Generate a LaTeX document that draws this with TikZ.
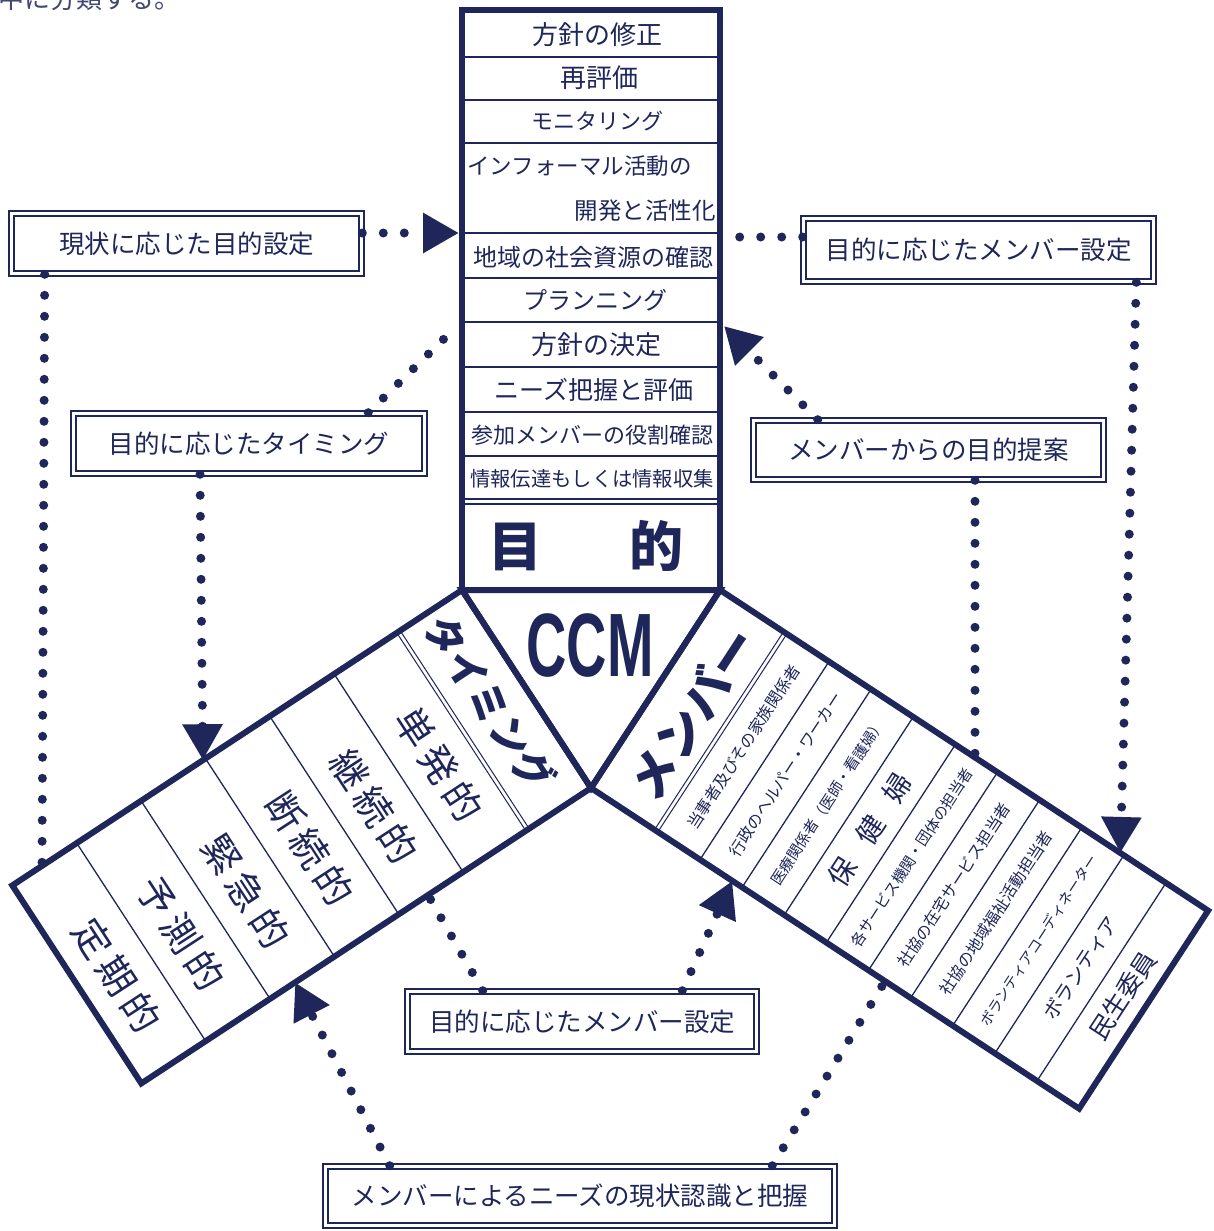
\documentclass[tikz,border=0pt]{standalone}
\usepackage{fontspec}
\usepackage{graphicx}
\usetikzlibrary{calc,arrows.meta}
\setmainfont{Liberation Sans}
\newfontfamily\jp{Noto Sans CJK JP}
\definecolor{navy}{RGB}{30,38,90}
\newcommand\fsz[1]{\fontsize{#1pt}{#1pt}\selectfont}
\begin{document}
\begin{tikzpicture}[x=1pt,y=-1pt,
  frame/.style={draw=navy,line width=6pt,line join=miter},
  rowline/.style={draw=navy,line width=1.3pt},
  dotline/.style={draw=navy,line width=9pt,line cap=round,dash pattern=on 0pt off 21pt},
  tip/.style={-{Triangle[length=36pt,width=38pt]}},
  labelbox/.style={draw=navy,double=white,double distance=3.5pt,line width=1.6pt,inner sep=0pt,text=navy,font=\jp\fsz{25.5}},
  rowtext/.style={text=navy,inner sep=0pt},
]
\useasboundingbox (0,0) rectangle (1213,1231);
\fill[white] (0,0) rectangle (1213,1231);

% cut-off sentence at the top
\node[rowtext,anchor=base west,font=\jp\fsz{26},text=navy!85] (cut) at (-2,9) {中に分類する。};

% key points of the Y shape
\coordinate (TL) at (462,590);
\coordinate (TR) at (720,590);
\coordinate (V) at (591,788);
\coordinate (L1) at (12.3,885.4);
\coordinate (L2) at (141.3,1083.4);
\coordinate (R1) at (1208.1,910.6);
\coordinate (R2) at (1079.1,1108.6);
\coordinate (ML) at ($(TL)!0.5!(V)$);
\coordinate (ML1) at ($(L1)!0.5!(L2)$);
\coordinate (MR) at ($(TR)!0.5!(V)$);
\coordinate (MR1) at ($(R1)!0.5!(R2)$);

% ---------- top box (目的) ----------
\foreach \y in {57,100,143,233,278,322,367,412,456,499,504}
  \draw[rowline] (462,\y) -- (720,\y);
\node[rowtext,font=\jp\fsz{26}] (r1) at (597,35) {方針の修正};
\node[rowtext,font=\jp\fsz{26}] (r2) at (599,78) {再評価};
\node[rowtext,font=\jp\fsz{22}] (r3) at (597,121) {モニタリング};
\node[rowtext,font=\jp\fsz{22.5},anchor=west] (r4) at (467,166) {インフォーマル活動の};
\node[rowtext,font=\jp\fsz{23.5},anchor=east] (r5) at (716,211) {開発と活性化};
\node[rowtext,font=\jp\fsz{24}] (r6) at (593,257) {地域の社会資源の確認};
\node[rowtext,font=\jp\fsz{24}] (r7) at (595,300) {プランニング};
\node[rowtext,font=\jp\fsz{26}] (r8) at (596,345) {方針の決定};
\node[rowtext,font=\jp\fsz{25}] (r9) at (594,390) {ニーズ把握と評価};
\node[rowtext,font=\jp\fsz{22}] (r10) at (592,435) {参加メンバーの役割確認};
\node[rowtext,font=\jp\fsz{20.3}] (r11) at (592,479) {情報伝達もしくは情報収集};
\node[rowtext,font=\jp\bfseries\fsz{54}] (mokuteki) at (586,546) {目\hspace{88pt}的};

% ---------- CCM triangle ----------
\node[rowtext,font=\bfseries\fsz{90}] (ccm) at (590,646) {\scalebox{0.62}[1]{CCM}};

% ---------- left arm (タイミング) ----------
\foreach \s in {74,78}
  \draw[navy,line width=1pt] ($(TL)!\s pt!(L1)$) -- ($(V)!\s pt!(L2)$);
\foreach \s in {153,230,307,384,461}
  \draw[rowline] ($(TL)!\s pt!(L1)$) -- ($(V)!\s pt!(L2)$);
\node[rowtext,font=\jp\bfseries\fsz{40},rotate=-56.9] (timing) at ($(ML)!38pt!(ML1)+(-5,-7)$) {タイミング};
\foreach \c/\t [count=\i] in {114.5/単\hspace{6pt}発\hspace{6pt}的,191.5/継\hspace{6pt}続\hspace{6pt}的,268.5/断\hspace{6pt}続\hspace{6pt}的,345.5/緊\hspace{6pt}急\hspace{6pt}的,422.5/予\hspace{6pt}測\hspace{6pt}的,499.5/定\hspace{6pt}期\hspace{6pt}的}
  \node[rowtext,font=\jp\fsz{38},rotate=-56.9] (lt\i) at ($(ML)!\c pt!(ML1)+(8,12.5)$) {\t};

% ---------- right arm (メンバー) ----------
\foreach \s in {76,80}
  \draw[navy,line width=1pt] ($(TR)!\s pt!(R1)$) -- ($(V)!\s pt!(R2)$);
\foreach \s in {130.4,180.8,231.2,281.6,332,382.4,432.8,483.2,533.6}
  \draw[rowline] ($(TR)!\s pt!(R1)$) -- ($(V)!\s pt!(R2)$);
\node[rowtext,font=\jp\bfseries\fsz{48},rotate=56.9] (member) at ($(MR)!44pt!(MR1)$) {メンバー};
\foreach \c/\t/\f [count=\i] in {105.2/当事者及びその家族関係者/16,155.6/行政のヘルパー・ワーカー/16,206/医療関係者（医師・看護婦）/15,256.4/保\hspace{22pt}健\hspace{22pt}婦/28,306.8/各サービス機関・団体の担当者/15,357.2/社協の在宅サービス担当者/16,407.6/社協の地域福祉活動担当者/16,458/ボランティアコーディネーター/14.5,508.4/ボランティア/20,558.8/民生委員/25}
  \node[rowtext,font=\jp\fsz{\f},rotate=56.9] (rt\i) at ($(MR)!\c pt!(MR1)$) {\t};

% ---------- thick frames ----------
\draw[frame] (462,10) rectangle (720,590);
\draw[frame] (TL) -- (TR) -- (V) -- cycle;
\draw[frame] (TL) -- (L1) -- (L2) -- (V) -- cycle;
\draw[frame] (TR) -- (R1) -- (R2) -- (V) -- cycle;

% ---------- label boxes ----------
\node[labelbox,minimum width=350pt,minimum height=60pt] (n1) at (186.5,243.5) {現状に応じた目的設定};
\node[labelbox,minimum width=351pt,minimum height=60pt] (n2) at (249,443.5) {目的に応じたタイミング};
\node[labelbox,minimum width=350pt,minimum height=63pt] (n3) at (978.5,250) {目的に応じたメンバー設定};
\node[labelbox,minimum width=350pt,minimum height=59pt] (n4) at (928.5,450) {メンバーからの目的提案};
\node[labelbox,minimum width=349pt,minimum height=60pt] (n5) at (582,1021.5) {目的に応じたメンバー設定};
\node[labelbox,minimum width=509pt,minimum height=59pt] (n6) at (580,1196) {メンバーによるニーズの現状認識と把握};

% ---------- connector end points ----------
\coordinate (c1) at (459,233);
\coordinate (c2) at ($(TL)!502.5pt!(L1)$);
\coordinate (c3) at (452,331);
\coordinate (c4) at ($(TL)!310pt!(L1)$);
\coordinate (c5) at (728,237);
\coordinate (c6) at ($(TR)!479pt!(R1)$);
\coordinate (c7) at (724,326);
\coordinate (c8) at ($(TR)!305.1pt!(R1)$);
\coordinate (c9) at ($(V)!195pt!(L2)$);
\coordinate (c10) at ($(V)!169pt!(R2)$);
\coordinate (c11) at ($(V)!354pt!(L2)$);
\coordinate (c12) at ($(V)!351.8pt!(R2)$);

% ---------- dotted connectors ----------
\draw[dotline,tip] (n1.east |- c1) -- (c1);
\draw[dotline] ([xshift=34pt]n1.south west) -- (c2);
\draw[dotline] ([xshift=-57pt]n2.north east) -- (c3);
\draw[dotline,tip] ([xshift=-49pt]n2.south) -- (c4);
\draw[dotline] (n3.west |- c5) -- (c5);
\draw[dotline,tip] ([xshift=-18pt]n3.south east) -- (c6);
\draw[dotline,tip] ([xshift=65pt]n4.north west) -- (c7);
\draw[dotline] ([xshift=46.5pt]n4.south) -- (c8);
\draw[dotline] ([xshift=76pt]n5.north west) -- (c9);
\draw[dotline,tip] ([xshift=-75pt]n5.north east) -- (c10);
\draw[dotline,tip] ([xshift=65pt]n6.north west) -- (c11);
\draw[dotline] ([xshift=-63pt]n6.north east) -- (c12);
\end{tikzpicture}
\end{document}
